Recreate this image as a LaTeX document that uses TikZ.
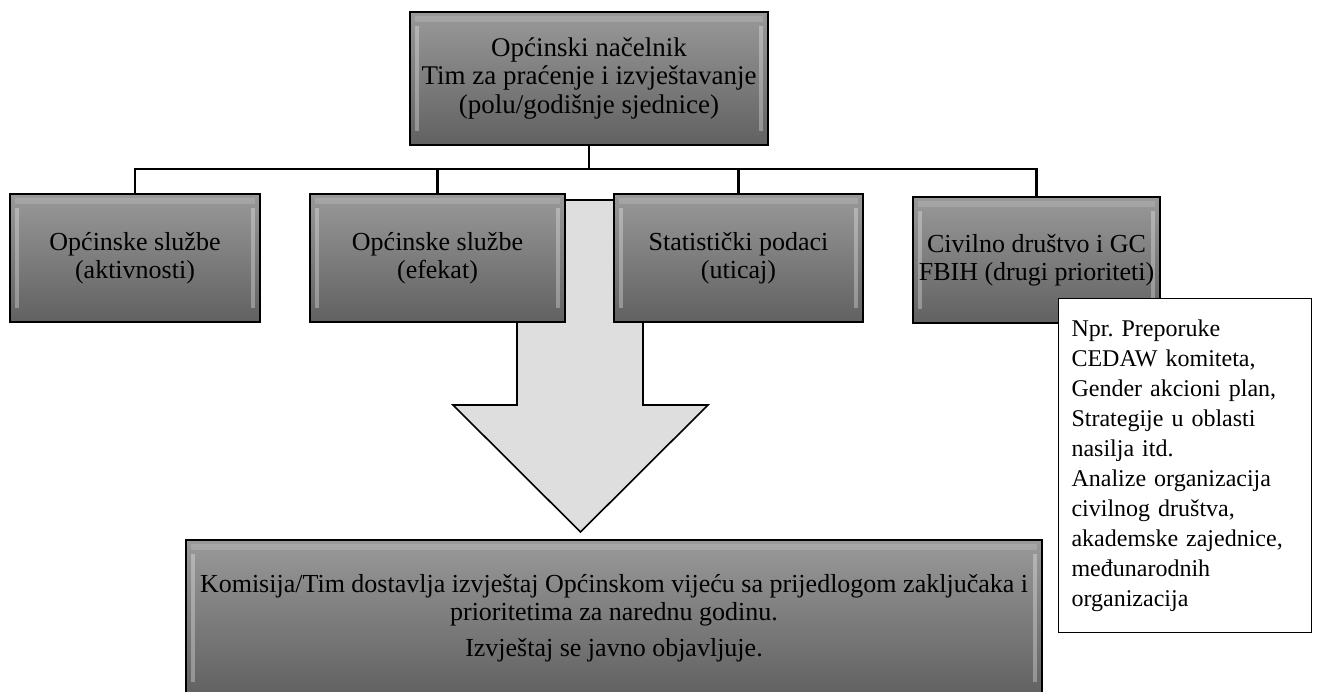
\documentclass[tikz,border=0pt]{standalone}
\usepackage{fontspec}
\setmainfont{Liberation Serif}
\frenchspacing
\begin{document}
\begin{tikzpicture}[x=1pt,y=-1pt,
  gbox/.style={draw=black, line width=1.8pt, top color=black!40, bottom color=black!62,
    inner sep=0pt, outer sep=0pt, align=center, text=black,
    font=\fontsize{26}{28}\selectfont,
    path picture={
      \fill[white,opacity=0.3] ([xshift=5pt,yshift=-14pt]path picture bounding box.north west) rectangle ([xshift=9pt,yshift=14pt]path picture bounding box.south west);
      \fill[white,opacity=0.3] ([xshift=-9pt,yshift=-14pt]path picture bounding box.north east) rectangle ([xshift=-5pt,yshift=14pt]path picture bounding box.south east);
      \fill[white,opacity=0.15] ([xshift=5pt,yshift=-4pt]path picture bounding box.north west) rectangle ([xshift=-5pt,yshift=-10pt]path picture bounding box.north east);
    }},
  conn/.style={draw=black, line width=2.2pt},
  bigarrow/.style={draw=black, line width=1.6pt, fill=black!13, line join=miter},
  notebox/.style={draw=black, line width=1.1pt, fill=white, inner xsep=13pt, inner ysep=0pt,
    text width=227pt, minimum height=334pt, align=left, anchor=north west,
    font=\fontsize{24}{30}\selectfont}
]
\useasboundingbox (0,0) rectangle (1317,691);
\fill[white] (0,0) rectangle (1317,691);

% big arrow (behind the boxes)
\coordinate (a1) at (517,200);
\coordinate (a2) at (517,405);
\coordinate (a3) at (453,405);
\coordinate (tip) at (580.5,532);
\coordinate (a5) at (708,405);
\coordinate (a6) at (643,405);
\coordinate (a7) at (643,200);
\draw[bigarrow] (a1) -- (a2) -- (a3) -- (tip) -- (a5) -- (a6) -- (a7) -- cycle;

% top box
\node[gbox, minimum width=358pt, minimum height=133pt, font=\fontsize{27}{28.5}\selectfont] (top) at (589,78.5)
  {Općinski načelnik\\Tim za praćenje i izvještavanje\\(polu/godišnje sjednice)};

% second row
\node[gbox, minimum width=250pt, minimum height=128pt] (b1) at (135,258) {Općinske službe\\(aktivnosti)};
\node[gbox, minimum width=255pt, minimum height=128pt] (b2) at (437.5,258) {Općinske službe\\(efekat)};
\node[gbox, minimum width=249pt, minimum height=128pt] (b3) at (738.5,258) {Statistički podaci\\(uticaj)};
\node[gbox, minimum width=247pt, minimum height=126pt] (b4) at (1036.5,260) {Civilno društvo i GC\\FBIH (drugi prioriteti)};

% connectors
\coordinate (j) at (589,169);
\draw[conn] (top.south) -- (j);
\draw[conn] (j) -| (b1.north);
\draw[conn] (j) -| (b2.north);
\draw[conn] (j) -| (b3.north);
\draw[conn] (j) -| (b4.north);

% bottom box
\node[gbox, minimum width=856pt, minimum height=156pt] (bot) at (614,618)
  {Komisija/Tim dostavlja izvještaj Općinskom vijeću sa prijedlogom zaključaka i\\prioritetima za narednu godinu.\\[8pt]Izvještaj se javno objavljuje.};

% note box
\node[notebox] (note) at (1058,298)
  {Npr. Preporuke\\CEDAW komiteta,\\Gender akcioni plan,\\Strategije u oblasti\\nasilja itd.\\Analize organizacija\\civilnog društva,\\akademske zajednice,\\međunarodnih\\organizacija};
\end{tikzpicture}
\end{document}
